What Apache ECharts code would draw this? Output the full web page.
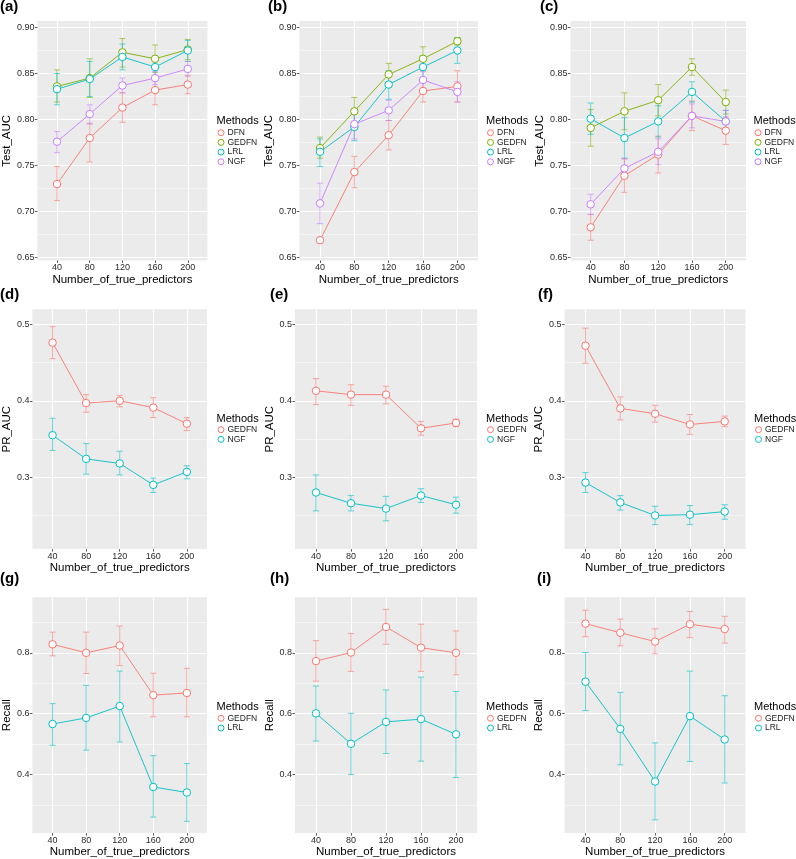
<!DOCTYPE html>
<html><head><meta charset="utf-8">
<script src="https://cdn.jsdelivr.net/npm/echarts@6/dist/echarts.min.js"></script>
<style>html,body{margin:0;padding:0;background:#fff}#c{width:796px;height:859px}</style>
</head><body><div id="c"></div><script>
// ---------- data ----------
const categories = ['40','80','120','160','200'];
const xTickPos = [1,2,3,4,5];
const row1Ticks = [0.65,0.70,0.75,0.80,0.85,0.90];
const row1Minor = [0.675,0.725,0.775,0.825,0.875];
const row2Ticks = [0.3,0.4,0.5];
const row2Minor = [0.25,0.35,0.45];
const row3Ticks = [0.4,0.6,0.8];
const row3Minor = [0.3,0.5,0.7,0.9];

// (a)
const aDFN = [0.730,0.780,0.813,0.832,0.838];
const aDFNLo = [0.712,0.754,0.797,0.816,0.828];
const aDFNHi = [0.749,0.796,0.829,0.847,0.848];
const aGEDFN = [0.836,0.845,0.873,0.866,0.876];
const aGEDFNLo = [0.819,0.824,0.857,0.851,0.865];
const aGEDFNHi = [0.854,0.866,0.888,0.881,0.887];
const aLRL = [0.833,0.844,0.868,0.857,0.875];
const aLRLLo = [0.816,0.825,0.854,0.845,0.863];
const aLRLHi = [0.850,0.863,0.882,0.869,0.886];
const aNGF = [0.776,0.806,0.837,0.845,0.855];
const aNGFLo = [0.764,0.795,0.829,0.838,0.847];
const aNGFHi = [0.787,0.816,0.845,0.852,0.863];
// (b)
const bDFN = [0.669,0.743,0.783,0.831,0.836];
const bDFNLo = [0.668,0.726,0.767,0.819,0.819];
const bDFNHi = [0.670,0.760,0.799,0.843,0.853];
const bGEDFN = [0.769,0.809,0.849,0.866,0.885];
const bGEDFNLo = [0.758,0.795,0.838,0.853,0.881];
const bGEDFNHi = [0.781,0.824,0.861,0.879,0.889];
const bLRL = [0.765,0.792,0.838,0.857,0.875];
const bLRLLo = [0.749,0.777,0.822,0.845,0.861];
const bLRLHi = [0.779,0.807,0.853,0.869,0.889];
const bNGF = [0.709,0.795,0.810,0.843,0.830];
const bNGFLo = [0.687,0.779,0.799,0.834,0.819];
const bNGFHi = [0.731,0.811,0.821,0.852,0.841];
// (c)
const cDFN = [0.683,0.739,0.762,0.804,0.788];
const cDFNLo = [0.669,0.721,0.742,0.788,0.773];
const cDFNHi = [0.697,0.757,0.782,0.820,0.803];
const cGEDFN = [0.791,0.809,0.821,0.857,0.819];
const cGEDFNLo = [0.771,0.789,0.804,0.848,0.806];
const cGEDFNHi = [0.811,0.829,0.838,0.866,0.832];
const cLRL = [0.801,0.780,0.798,0.830,0.798];
const cLRLLo = [0.784,0.758,0.781,0.819,0.786];
const cLRLHi = [0.818,0.802,0.815,0.841,0.810];
const cNGF = [0.708,0.747,0.765,0.804,0.798];
const cNGFLo = [0.697,0.736,0.751,0.791,0.786];
const cNGFHi = [0.719,0.758,0.779,0.817,0.810];
// (d)
const dGEDFN = [0.476,0.397,0.400,0.391,0.370];
const dGEDFNLo = [0.455,0.385,0.392,0.378,0.361];
const dGEDFNHi = [0.497,0.408,0.407,0.404,0.378];
const dNGF = [0.355,0.324,0.318,0.290,0.307];
const dNGFLo = [0.335,0.304,0.303,0.280,0.298];
const dNGFHi = [0.377,0.344,0.334,0.299,0.315];
// (e)
const eGEDFN = [0.413,0.408,0.408,0.364,0.371];
const eGEDFNLo = [0.395,0.394,0.396,0.355,0.366];
const eGEDFNHi = [0.429,0.421,0.419,0.373,0.376];
const eNGF = [0.280,0.266,0.259,0.276,0.264];
const eNGFLo = [0.256,0.256,0.243,0.267,0.253];
const eNGFHi = [0.303,0.276,0.275,0.285,0.274];
// (f)
const fGEDFN = [0.472,0.390,0.383,0.369,0.373];
const fGEDFNLo = [0.449,0.375,0.372,0.356,0.366];
const fGEDFNHi = [0.495,0.405,0.394,0.382,0.380];
const fNGF = [0.293,0.267,0.250,0.251,0.255];
const fNGFLo = [0.280,0.257,0.238,0.238,0.245];
const fNGFHi = [0.306,0.276,0.262,0.263,0.264];
// (g)
const gGEDFN = [0.828,0.800,0.824,0.661,0.668];
const gGEDFNLo = [0.790,0.732,0.758,0.590,0.590];
const gGEDFNHi = [0.868,0.868,0.888,0.733,0.749];
const gLRL = [0.566,0.586,0.625,0.359,0.341];
const gLRLLo = [0.496,0.480,0.507,0.260,0.246];
const gLRLHi = [0.633,0.693,0.740,0.462,0.436];
// (h)
const hGEDFN = [0.773,0.801,0.885,0.817,0.800];
const hGEDFNLo = [0.707,0.739,0.828,0.739,0.728];
const hGEDFNHi = [0.840,0.863,0.943,0.894,0.872];
const hLRL = [0.601,0.501,0.573,0.582,0.532];
const hLRLLo = [0.510,0.400,0.469,0.444,0.390];
const hLRLHi = [0.691,0.601,0.678,0.720,0.673];
// (i)
const iGEDFN = [0.896,0.866,0.837,0.894,0.878];
const iGEDFNLo = [0.853,0.823,0.797,0.850,0.832];
const iGEDFNHi = [0.940,0.911,0.879,0.936,0.920];
const iLRL = [0.705,0.550,0.377,0.592,0.515];
const iLRLLo = [0.610,0.432,0.251,0.443,0.372];
const iLRLHi = [0.801,0.670,0.504,0.740,0.659];

// ---------- panel definitions ----------
const pal4 = ['#F8766D','#7CAE00','#00BFC4','#C77CFF'];
const pal2 = ['#F8766D','#00BFC4'];
const panels = [
  {tag:'a', yName:'Test_AUC', row:0, col:0, s:[['DFN',aDFN,aDFNLo,aDFNHi],['GEDFN',aGEDFN,aGEDFNLo,aGEDFNHi],['LRL',aLRL,aLRLLo,aLRLHi],['NGF',aNGF,aNGFLo,aNGFHi]]},
  {tag:'b', yName:'Test_AUC', row:0, col:1, s:[['DFN',bDFN,bDFNLo,bDFNHi],['GEDFN',bGEDFN,bGEDFNLo,bGEDFNHi],['LRL',bLRL,bLRLLo,bLRLHi],['NGF',bNGF,bNGFLo,bNGFHi]]},
  {tag:'c', yName:'Test_AUC', row:0, col:2, s:[['DFN',cDFN,cDFNLo,cDFNHi],['GEDFN',cGEDFN,cGEDFNLo,cGEDFNHi],['LRL',cLRL,cLRLLo,cLRLHi],['NGF',cNGF,cNGFLo,cNGFHi]]},
  {tag:'d', yName:'PR_AUC', row:1, col:0, s:[['GEDFN',dGEDFN,dGEDFNLo,dGEDFNHi],['NGF',dNGF,dNGFLo,dNGFHi]]},
  {tag:'e', yName:'PR_AUC', row:1, col:1, s:[['GEDFN',eGEDFN,eGEDFNLo,eGEDFNHi],['NGF',eNGF,eNGFLo,eNGFHi]]},
  {tag:'f', yName:'PR_AUC', row:1, col:2, s:[['GEDFN',fGEDFN,fGEDFNLo,fGEDFNHi],['NGF',fNGF,fNGFLo,fNGFHi]]},
  {tag:'g', yName:'Recall', row:2, col:0, s:[['GEDFN',gGEDFN,gGEDFNLo,gGEDFNHi],['LRL',gLRL,gLRLLo,gLRLHi]]},
  {tag:'h', yName:'Recall', row:2, col:1, s:[['GEDFN',hGEDFN,hGEDFNLo,hGEDFNHi],['LRL',hLRL,hLRLLo,hLRLHi]]},
  {tag:'i', yName:'Recall', row:2, col:2, s:[['GEDFN',iGEDFN,iGEDFNLo,iGEDFNHi],['LRL',iLRL,iLRLLo,iLRLHi]]}
];

// ---------- layout (style, not data) ----------
const rowLayout = [
  {top:21, h:239.5, min:0.647, max:0.907, ticks:row1Ticks, minor:row1Minor, dec:2, lblTop:-1, methTop:115.8, legTop:128.2},
  {top:309.3, h:239.8, min:0.206, max:0.5196, ticks:row2Ticks, minor:row2Minor, dec:1, lblTop:287, methTop:413, legTop:425.2},
  {top:597.3, h:239.5, min:0.2074, max:0.9825, ticks:row3Ticks, minor:row3Minor, dec:1, lblTop:571, methTop:701.4, legTop:713.8}
];
const colLayout = [
  [{left:30.6, w:176.8, lbl:0, leg:216.5, gap:17}, {left:299.4, w:178.6, lbl:268, leg:486, gap:17}, {left:570.4, w:175.6, lbl:540, leg:753.5, gap:17}],
  [{left:26, w:181, lbl:0, leg:216.5, gap:14.5}, {left:295, w:182, lbl:270, leg:486, gap:14.5}, {left:564.6, w:181, lbl:538, leg:754, gap:14.5}],
  [{left:26, w:181, lbl:0, leg:216.5, gap:14}, {left:295, w:182, lbl:270, leg:486, gap:14}, {left:564.6, w:181, lbl:537, leg:754, gap:14}]
];

const FONT = '"Liberation Sans", Arial, Helvetica, sans-serif';
const capHalf = 0.09;

const grid = [], xAxis = [], yAxis = [], series = [], legend = [], title = [];

panels.forEach((p, pi) => {
  const R = rowLayout[p.row], C = colLayout[p.row][p.col];
  const pal = p.s.length === 4 ? pal4 : pal2;
  grid.push({left:C.left, top:R.top, width:C.w, height:R.h, show:true, backgroundColor:'#EBEBEB', borderWidth:0, containLabel:false});
  xAxis.push({
    gridIndex:pi, type:'value', min:0.4, max:5.6,
    axisLine:{show:false},
    axisTick:{show:true, length:2.5, customValues:xTickPos, lineStyle:{color:'#333', width:0.8}},
    axisLabel:{customValues:xTickPos, formatter:v => categories[Math.round(v)-1], fontSize:9, color:'#2a2a2a', margin:3, fontFamily:FONT},
    splitLine:{show:true, lineStyle:{color:'#fff', width:1}},
    name:'Number_of_true_predictors', nameLocation:'middle', nameGap:10.5,
    nameTextStyle:{fontSize:11.5, color:'#000', fontFamily:FONT}
  });
  yAxis.push({
    gridIndex:pi, type:'value', min:R.min, max:R.max, position:'left',
    axisLine:{show:false},
    axisTick:{show:true, length:2.5, customValues:R.ticks, lineStyle:{color:'#333', width:0.8}},
    axisLabel:{customValues:R.ticks, formatter:v => v.toFixed(R.dec), fontSize:9, color:'#2a2a2a', margin:3, fontFamily:FONT},
    splitLine:{show:true, lineStyle:{color:'#fff', width:1}},
    name:p.yName, nameLocation:'middle', nameRotate:90, nameGap:C.gap,
    nameTextStyle:{fontSize:11.5, color:'#000', fontFamily:FONT}
  });
  const minorIdx = yAxis.length;
  yAxis.push({
    gridIndex:pi, type:'value', min:R.min, max:R.max, position:'left',
    axisLine:{show:false},
    axisTick:{show:false, customValues:R.minor},
    axisLabel:{show:false, customValues:R.minor},
    splitLine:{show:true, lineStyle:{color:'#fff', width:0.5}}
  });
  const majorIdx = minorIdx - 1;
  const legData = [];
  p.s.forEach((s, si) => {
    const [method, vals, lo, hi] = s;
    const col = pal[si];
    const sname = method + '#' + p.tag;
    series.push({
      type:'custom', name:sname + '_err', xAxisIndex:pi, yAxisIndex:majorIdx, z:2, silent:true,
      data: vals.map((v, k) => [xTickPos[k], lo[k], hi[k]]),
      encode:{x:0, y:[1,2]},
      renderItem:(params, api) => {
        const x = api.value(0), l = api.value(1), h = api.value(2);
        const t = api.coord([x, h]), b = api.coord([x, l]);
        const tl = api.coord([x - capHalf, h]), tr = api.coord([x + capHalf, h]);
        const bl = api.coord([x - capHalf, l]), br = api.coord([x + capHalf, l]);
        const st = {stroke:col, lineWidth:0.8, opacity:0.75};
        return {type:'group', children:[
          {type:'line', shape:{x1:t[0], y1:t[1], x2:b[0], y2:b[1]}, style:st},
          {type:'line', shape:{x1:tl[0], y1:tl[1], x2:tr[0], y2:tr[1]}, style:st},
          {type:'line', shape:{x1:bl[0], y1:bl[1], x2:br[0], y2:br[1]}, style:st}
        ]};
      }
    });
    series.push({
      type:'line', name:sname, xAxisIndex:pi, yAxisIndex:majorIdx, z:3,
      data: vals.map((v, k) => [xTickPos[k], v]),
      symbol:'circle', symbolSize:7.5, showSymbol:true,
      lineStyle:{color:col, width:0.9},
      itemStyle:{color:'#fff', borderColor:col, borderWidth:1},
      emphasis:{disabled:true}
    });
    legData.push({name:sname, icon:'circle', itemStyle:{color:'#fff', borderColor:col, borderWidth:1}});
  });
  legend.push({
    left:C.leg + 1, top:R.legTop, orient:'vertical', padding:0, itemGap:0.7,
    itemWidth:6, itemHeight:6, selectedMode:false, data:legData,
    formatter:n => n.split('#')[0],
    textStyle:{fontSize:8.5, lineHeight:8, color:'#1a1a1a', fontFamily:FONT, padding:[0,0,0,-1.5]}
  });
  title.push({
    left:C.lbl, top:R.lblTop, padding:0,
    text:'{p|(}{b|' + p.tag + '}{p|)}',
    textStyle:{rich:{p:{fontSize:15, fontFamily:FONT, color:'#000'}, b:{fontSize:15, fontWeight:'bold', fontFamily:FONT, color:'#000'}}}
  });
  title.push({
    left:C.leg, top:R.methTop, padding:0, text:'Methods',
    textStyle:{fontSize:11, fontWeight:'normal', fontFamily:FONT, color:'#000'}
  });
});

const chart = echarts.init(document.getElementById('c'), null, {renderer:'canvas'});
chart.setOption({animation:false, backgroundColor:'#fff', grid, xAxis, yAxis, series, legend, title});
</script></body></html>
